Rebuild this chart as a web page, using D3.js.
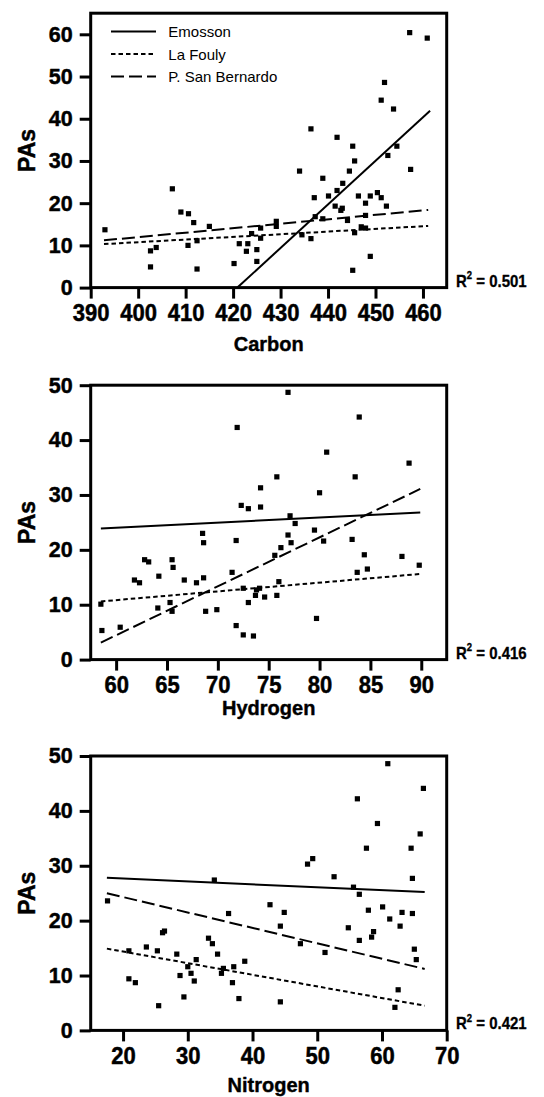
<!DOCTYPE html>
<html>
<head>
<meta charset="utf-8">
<script src="https://cdn.jsdelivr.net/npm/d3@7"></script>
<style>
  html, body { margin: 0; padding: 0; background: #fff; }
  svg { display: block; font-family: "Liberation Sans", Arial, Helvetica, sans-serif; }
</style>
</head>
<body>
<svg id="chart" width="544" height="1097"></svg>
<script>
// ---- Data -------------------------------------------------------------
const sites = ["Emosson", "La Fouly", "P. San Bernardo"];

// Carbon vs PAs
const carbonX = [393.0, 402.6, 403.8, 402.6, 407.2, 409.0, 410.6, 410.5, 411.7, 412.4,
  412.4, 415.0, 420.2, 421.3, 422.8, 423.1, 423.9, 425.0, 425.0, 425.8,
  425.8, 429.1, 429.1, 434.0, 434.5, 436.4, 436.4, 437.1, 437.3, 438.9,
  438.9, 440.1, 441.9, 441.9, 441.5, 442.7, 443.0, 443.1, 444.1, 444.5,
  445.2, 445.6, 445.2, 445.6, 446.4, 447.0, 447.9, 447.9, 447.9, 448.9,
  448.9, 450.4, 451.2, 451.2, 451.9, 452.3, 452.6, 453.8, 454.5, 457.2,
  457.4, 460.9];
const carbonPAs = [13.7, 8.7, 9.5, 4.9, 23.4, 17.9, 17.5, 10.0, 15.4, 11.1,
  4.4, 14.5, 5.7, 10.4, 8.6, 10.4, 12.8, 9.0, 6.2, 14.1,
  11.7, 15.7, 14.5, 27.6, 12.5, 37.6, 11.6, 21.3, 16.8, 25.9,
  16.3, 21.7, 35.6, 23.0, 19.3, 18.3, 18.8, 24.7, 15.9, 27.6,
  33.5, 30.0, 4.1, 13.0, 21.7, 14.4, 20.0, 14.1, 17.1, 21.7,
  7.4, 22.5, 44.4, 21.3, 48.6, 19.3, 31.3, 42.3, 33.5, 60.4,
  28.0, 59.1];
// fitted lines per site: [x start, x end], [y start, y end]
const carbonFitX = [[420.9, 461.5], [392.8, 461.1], [392.8, 461.1]];
const carbonFitY = [[0, 41.9], [10.3, 14.6], [11.2, 18.4]];

// Hydrogen vs PAs
const hydrogenX = [58.5, 58.6, 60.4, 61.8, 62.3, 62.8, 63.2, 64.1, 64.2, 65.3,
  65.5, 65.5, 65.6, 66.7, 67.9, 68.5, 68.6, 68.6, 68.8, 69.9,
  71.4, 71.8, 71.8, 71.9, 72.3, 72.5, 72.5, 73.0, 73.0, 73.5,
  73.7, 73.8, 74.1, 74.2, 74.2, 74.6, 75.6, 75.8, 75.8, 76.0,
  76.2, 76.9, 76.9, 77.1, 77.2, 77.6, 79.5, 79.7, 80.0, 80.4,
  80.7, 83.2, 83.5, 83.7, 83.9, 84.4, 84.7, 88.1, 88.8, 89.8];
const hydrogenPAs = [10.1, 5.3, 5.9, 14.5, 14.0, 18.2, 17.8, 9.4, 15.2, 10.4,
  18.2, 8.8, 16.8, 14.5, 14.0, 23.0, 21.3, 14.9, 8.8, 9.1,
  15.9, 21.7, 6.2, 42.3, 28.1, 13.0, 4.5, 27.5, 10.4, 4.3,
  11.7, 12.7, 13.0, 31.3, 27.8, 11.4, 19.0, 33.3, 11.7, 14.2,
  20.4, 22.7, 48.7, 26.2, 21.3, 24.8, 23.6, 7.5, 30.4, 21.6,
  37.8, 21.9, 33.3, 15.9, 44.2, 19.1, 16.5, 18.8, 35.8, 17.2];
const hydrogenFitX = [[58.5, 89.9], [58.5, 89.9], [58.5, 89.9]];
const hydrogenFitY = [[23.9, 26.8], [10.6, 15.6], [3.1, 31.1]];

// Nitrogen vs PAs
const nitrogenX = [17.6, 20.9, 20.9, 21.9, 23.6, 25.3, 25.5, 26.1, 26.4, 28.3,
  28.8, 29.4, 30.0, 30.5, 31.0, 31.3, 33.2, 33.8, 34.1, 34.6,
  35.2, 35.5, 36.3, 36.9, 37.1, 37.9, 38.8, 42.7, 44.3, 44.3,
  44.9, 47.4, 48.5, 49.3, 51.2, 52.6, 54.8, 55.6, 56.2, 56.5,
  56.5, 57.6, 57.9, 58.4, 58.7, 59.3, 60.1, 60.9, 61.2, 62.0,
  62.5, 62.8, 63.1, 64.5, 64.7, 64.7, 65.0, 65.3, 65.9, 66.4];
const nitrogenPAs = [23.6, 14.5, 9.4, 8.7, 15.2, 14.5, 4.5, 17.8, 18.1, 13.9,
  10.0, 6.1, 11.6, 10.4, 9.0, 12.9, 16.8, 15.8, 27.4, 13.9,
  10.4, 11.3, 21.3, 8.7, 11.6, 5.8, 12.6, 22.9, 5.2, 19.0,
  21.5, 15.8, 30.3, 31.3, 14.2, 28.0, 18.7, 26.1, 42.2, 24.8,
  16.4, 33.2, 21.9, 17.0, 18.0, 37.7, 22.5, 48.6, 20.3, 4.2,
  7.4, 19.0, 21.5, 33.2, 27.7, 21.3, 14.8, 12.9, 35.8, 44.1];
const nitrogenFitX = [[17.5, 66.6], [17.5, 66.6], [17.5, 66.6]];
const nitrogenFitY = [[27.8, 25.2], [14.9, 4.5], [25.0, 11.2]];

// axis ticks and labels
const carbonTicks = [390, 400, 410, 420, 430, 440, 450, 460];
const hydrogenTicks = [60, 65, 70, 75, 80, 85, 90];
const nitrogenTicks = [20, 30, 40, 50, 60, 70];
const pasTicksWide = [0, 10, 20, 30, 40, 50, 60];
const pasTicks = [0, 10, 20, 30, 40, 50];
const r2Values = ["0.501", "0.416", "0.421"];

// ---- Drawing ----------------------------------------------------------
const svg = d3.select("#chart");
svg.append("rect").attr("width", 544).attr("height", 1097).attr("fill", "#fff");

const LEFT = 90.7, RIGHT = 446.7, PLOT_H = 274.4;
const dashStyles = [null, "4.5,3", "13,5"];
const FONT = "Liberation Sans, Arial, sans-serif";

// bold labels get a hairline outline so they read as heavy as the print
function heavy(sel, w) {
  sel.attr("stroke", "#000").attr("stroke-width", w).attr("stroke-linejoin", "round");
}

function drawPanel(cfg, idx) {
  const top = cfg.top, bottom = cfg.top + PLOT_H;
  const x = d3.scaleLinear().domain(cfg.xDomain).range([LEFT, RIGHT]);
  const y = d3.scaleLinear().domain(cfg.yDomain).range([bottom, top]);
  const g = svg.append("g");

  const clipId = "clip" + idx;
  g.append("clipPath").attr("id", clipId)
    .append("rect").attr("x", LEFT).attr("y", top)
    .attr("width", RIGHT - LEFT).attr("height", PLOT_H);

  // regression lines per site
  g.append("g").attr("clip-path", `url(#${clipId})`)
    .selectAll("line").data(sites).join("line")
    .attr("x1", (d, i) => x(cfg.fitX[i][0]))
    .attr("x2", (d, i) => x(cfg.fitX[i][1]))
    .attr("y1", (d, i) => y(cfg.fitY[i][0]))
    .attr("y2", (d, i) => y(cfg.fitY[i][1]))
    .attr("stroke", "#000").attr("stroke-width", 2)
    .attr("stroke-dasharray", (d, i) => dashStyles[i]);

  // sample points
  const pts = cfg.xs.map((v, i) => [v, cfg.ys[i]]);
  g.append("g").selectAll("rect").data(pts).join("rect")
    .attr("x", d => x(d[0]) - 2.6).attr("y", d => y(d[1]) - 2.6)
    .attr("width", 5.2).attr("height", 5.2).attr("fill", "#000");

  // frame
  g.append("rect").attr("x", LEFT).attr("y", top)
    .attr("width", RIGHT - LEFT).attr("height", PLOT_H)
    .attr("fill", "none").attr("stroke", "#000").attr("stroke-width", 3);

  // axes
  const xa = g.append("g").attr("transform", `translate(0,${bottom})`)
    .call(d3.axisBottom(x).tickValues(cfg.xTicks).tickSize(11).tickPadding(4.7).tickSizeOuter(0));
  const ya = g.append("g").attr("transform", `translate(${LEFT},0)`)
    .call(d3.axisLeft(y).tickValues(cfg.yTicks).tickSize(11).tickPadding(7).tickSizeOuter(0));
  [xa, ya].forEach(a => {
    a.select(".domain").remove();
    a.selectAll(".tick line").attr("stroke", "#000").attr("stroke-width", 3);
    a.selectAll(".tick text").attr("fill", "#000")
      .attr("font-family", FONT).attr("font-weight", "bold")
      .call(heavy, 0.45);
  });
  xa.selectAll(".tick text").attr("font-size", 22).attr("transform", "scale(1,1.07)");
  ya.selectAll(".tick text").attr("font-size", 21.5);

  // axis titles
  g.append("text")
    .attr("transform", `translate(${(LEFT + RIGHT) / 2},${cfg.titleY}) scale(1,1.04)`)
    .attr("text-anchor", "middle").attr("font-size", 20).attr("font-weight", "bold")
    .call(heavy, 0.4)
    .text(cfg.title);
  g.append("text")
    .attr("transform", `translate(34.5,${(top + bottom) / 2}) rotate(-90)`)
    .attr("text-anchor", "middle").attr("font-size", 23).attr("font-weight", "bold")
    .call(heavy, 0.45)
    .text("PAs");

  // coefficient of determination
  const r2 = g.append("text")
    .attr("transform", `translate(456,${bottom - 1}) scale(1,1.1)`)
    .attr("font-size", 15).attr("font-weight", "bold")
    .call(heavy, 0.3);
  r2.append("tspan").text("R");
  r2.append("tspan").attr("font-size", 9.5).attr("dy", -6.5).text("2");
  r2.append("tspan").attr("dy", 6.5).text(" = " + cfg.r2);

  if (cfg.legend) {
    const lg = g.append("g");
    const rowY = [31.5, 54, 76.5];
    sites.forEach((s, i) => {
      lg.append("line").attr("x1", 111).attr("x2", 156)
        .attr("y1", rowY[i]).attr("y2", rowY[i])
        .attr("stroke", "#000").attr("stroke-width", 2)
        .attr("stroke-dasharray", dashStyles[i]);
      lg.append("text").attr("x", 168.3).attr("y", rowY[i] + 5.5)
        .attr("font-size", 15).text(s);
    });
  }
}

const panels = [
  { top: 13.2, xDomain: [390, 465], yDomain: [0, 65], xTicks: carbonTicks, yTicks: pasTicksWide,
    xs: carbonX, ys: carbonPAs, fitX: carbonFitX, fitY: carbonFitY,
    title: "Carbon", titleY: 350.7, r2: r2Values[0], legend: true },
  { top: 385.2, xDomain: [57.5, 92.5], yDomain: [0, 50], xTicks: hydrogenTicks, yTicks: pasTicks,
    xs: hydrogenX, ys: hydrogenPAs, fitX: hydrogenFitX, fitY: hydrogenFitY,
    title: "Hydrogen", titleY: 714.5, r2: r2Values[1], legend: false },
  { top: 756.0, xDomain: [15, 70], yDomain: [0, 50], xTicks: nitrogenTicks, yTicks: pasTicks,
    xs: nitrogenX, ys: nitrogenPAs, fitX: nitrogenFitX, fitY: nitrogenFitY,
    title: "Nitrogen", titleY: 1091.6, r2: r2Values[2], legend: false }
];
panels.forEach(drawPanel);
</script>
</body>
</html>
